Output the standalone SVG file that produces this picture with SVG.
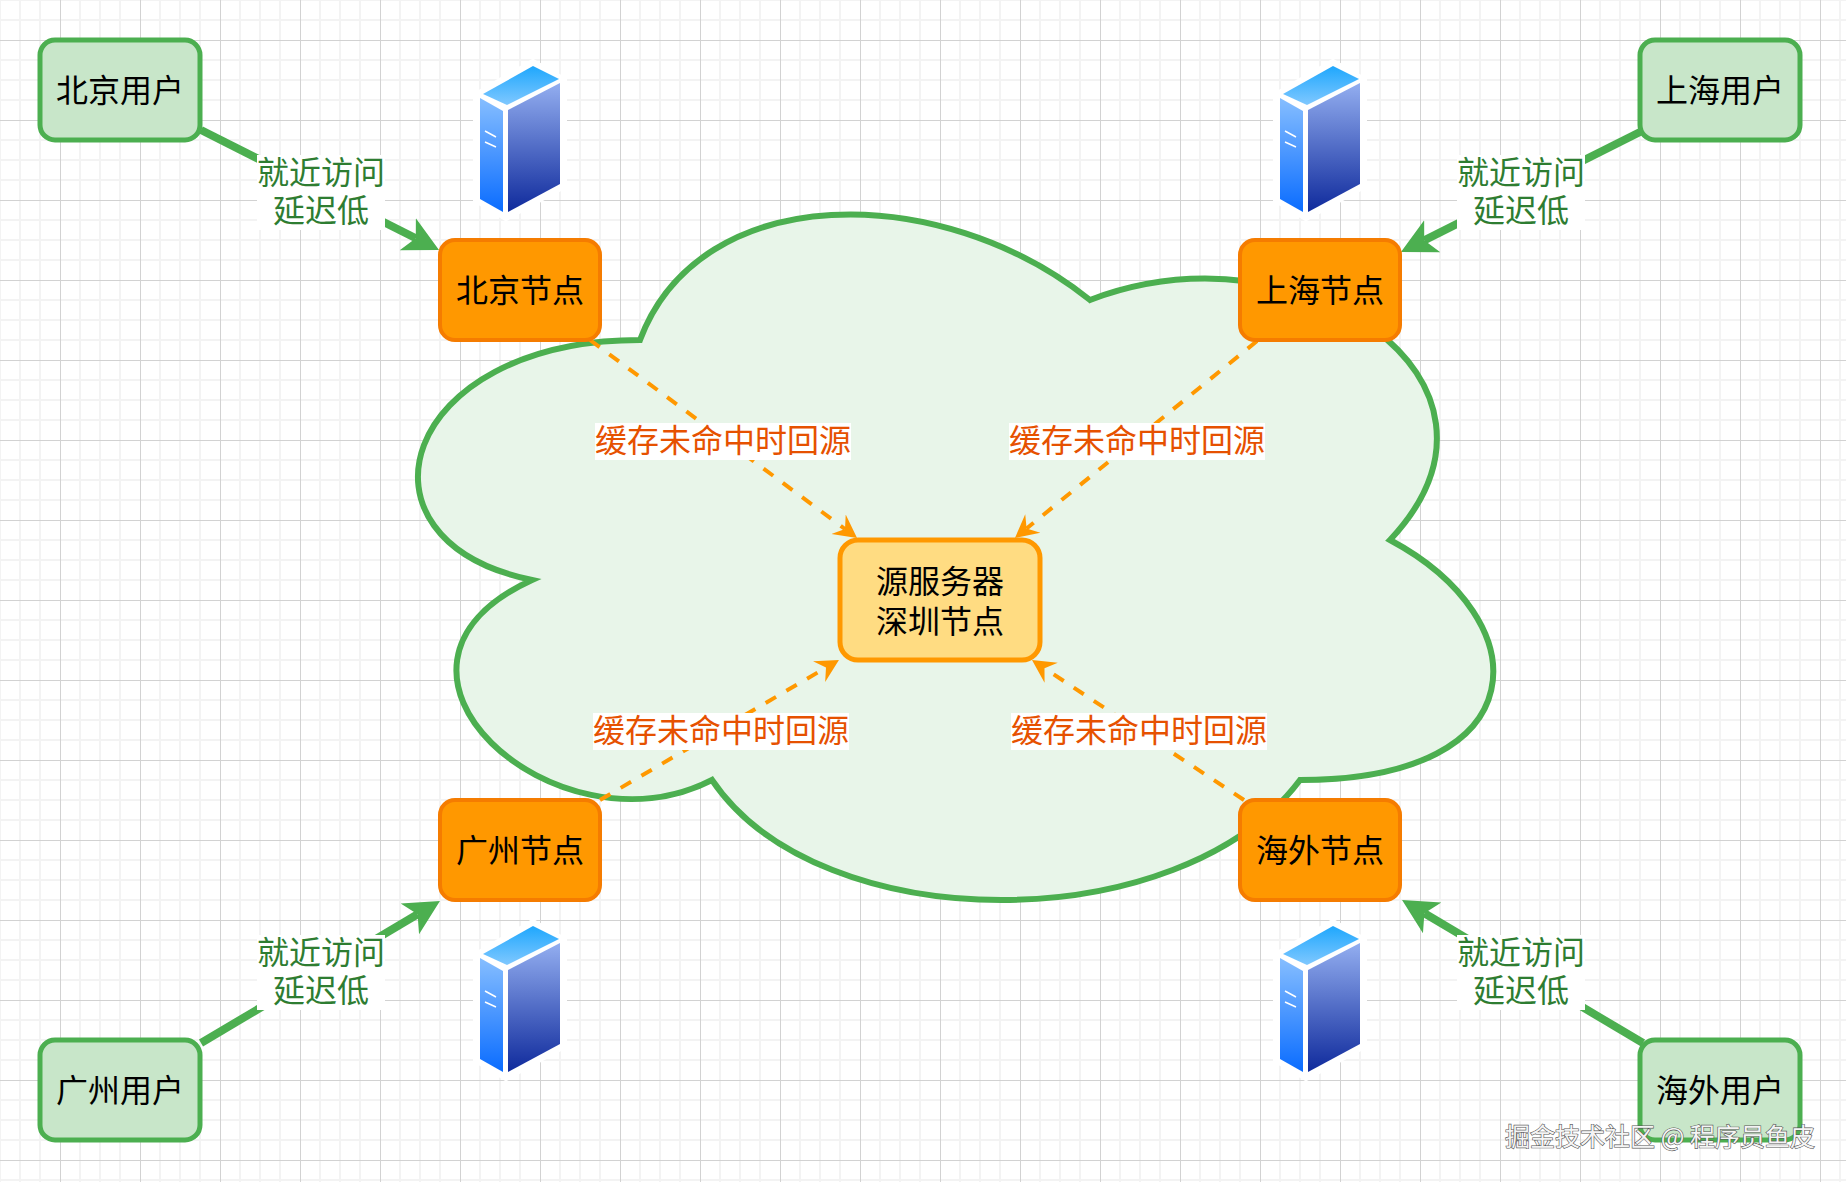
<svg xmlns="http://www.w3.org/2000/svg" xmlns:xlink="http://www.w3.org/1999/xlink" width="1846" height="1182" viewBox="0 0 1846 1182">
<style>
text{font-family:"Noto Sans CJK SC","Noto Sans",sans-serif;font-size:32px;text-anchor:middle}
.user{fill:#c8e6c9;stroke:#4caf50;stroke-width:5}
.edge{fill:#ff9800;stroke:#f57c00;stroke-width:4}
.origin{fill:#ffdc82;stroke:#ff9800;stroke-width:5}
.n{fill:#000}
.g{fill:#2e7d32}
.o{fill:#e65100}
.bg{fill:#fff}
.near{stroke:#4caf50;stroke-width:8;fill:none;marker-end:url(#ga)}
.miss{stroke:#ff9800;stroke-width:4;stroke-dasharray:12 12;fill:none;marker-end:url(#oa)}
</style>
<defs>
<pattern id="grid" patternUnits="userSpaceOnUse" x="60" y="40" width="80" height="80">
<rect width="80" height="80" fill="#fff"/>
<path d="M20 0V80M40 0V80M60 0V80M0 20H80M0 40H80M0 60H80" stroke="#f3f3f3" stroke-width="2" fill="none"/>
<path d="M0 0V80M0 0H80" stroke="#d2d2d2" stroke-width="2" fill="none"/>
</pattern>
<marker id="ga" markerUnits="userSpaceOnUse" markerWidth="36" markerHeight="38" refX="9" refY="19" orient="auto"><path d="M35 19L0 1L9 19L0 37Z" fill="#4caf50"/></marker>
<marker id="oa" markerUnits="userSpaceOnUse" markerWidth="24" markerHeight="26" refX="8" refY="13" orient="auto"><path d="M23 13L0 1L8 13L0 25Z" fill="#ff9800"/></marker>
<linearGradient id="st" x1="0" y1="0" x2="0" y2="1"><stop offset="0" stop-color="#1ea7fd"/><stop offset="1" stop-color="#80c8ff"/></linearGradient>
<linearGradient id="sr" x1="0" y1="0" x2="0" y2="1"><stop offset="0" stop-color="#93aef0"/><stop offset="1" stop-color="#0f2a9c"/></linearGradient>
<linearGradient id="sl" x1="0" y1="0" x2="0" y2="1"><stop offset="0" stop-color="#86beff"/><stop offset="1" stop-color="#0a6cff"/></linearGradient>
<g id="server">
<path d="M533 62L564 80V186L506 218L476 200V95Z" fill="#fff" stroke="#fff" stroke-width="6"/>
<path d="M533 66L559 79L507 105L483 94Z" fill="url(#st)"/>
<path d="M560 83V184L508 212V110Z" fill="url(#sr)"/>
<path d="M480 98L503 111V212L480 199Z" fill="url(#sl)"/>
<path d="M485 131L496 137M485 142L496 147" stroke="#fff" stroke-width="1.5" fill="none"/>
</g>
</defs>
<rect id="background" width="1846" height="1182" fill="url(#grid)"/>
<g id="cloud"><path d="M640 340C400 340 340 540 532 580C340 668 556 860 712 780C820 940 1180 940 1300 780C1540 780 1540 620 1390 540C1540 380 1300 220 1090 300C940 180 700 180 640 340Z" fill="#e8f5e9" stroke="#4caf50" stroke-width="6"/></g>
<g id="connectors">
<path class="near" d="M201 130L415.800 238.300"/>
<path class="near" d="M1640 132L1424.200 240.300"/>
<path class="near" d="M201 1043L417.600 914.300"/>
<path class="near" d="M1643 1043L1424.400 913.300"/>
<path class="miss" d="M590 340L845 529"/>
<path class="miss" d="M1257 341L1026.600 528.500"/>
<path class="miss" d="M600 800L826 667.600"/>
<path class="miss" d="M1244 800L1044.500 668.300"/>
</g>
<g id="server-beijing"><use href="#server"/></g>
<g id="server-shanghai"><use href="#server" x="800"/></g>
<g id="server-guangzhou"><use href="#server" y="860"/></g>
<g id="server-overseas"><use href="#server" x="800" y="860"/></g>
<g id="user-beijing"><rect class="user" x="40" y="40" width="160" height="100" rx="15"/><text class="n" x="120" y="102">北京用户</text></g>
<g id="user-shanghai"><rect class="user" x="1640" y="40" width="160" height="100" rx="15"/><text class="n" x="1720" y="102">上海用户</text></g>
<g id="user-guangzhou"><rect class="user" x="40" y="1040" width="160" height="100" rx="15"/><text class="n" x="120" y="1102">广州用户</text></g>
<g id="user-overseas"><rect class="user" x="1640" y="1040" width="160" height="100" rx="15"/><text class="n" x="1720" y="1102">海外用户</text></g>
<g id="node-beijing"><rect class="edge" x="440" y="240" width="160" height="100" rx="15"/><text class="n" x="520" y="302">北京节点</text></g>
<g id="node-shanghai"><rect class="edge" x="1240" y="240" width="160" height="100" rx="15"/><text class="n" x="1320" y="302">上海节点</text></g>
<g id="node-guangzhou"><rect class="edge" x="440" y="800" width="160" height="100" rx="15"/><text class="n" x="520" y="862">广州节点</text></g>
<g id="node-overseas"><rect class="edge" x="1240" y="800" width="160" height="100" rx="15"/><text class="n" x="1320" y="862">海外节点</text></g>
<g id="origin"><rect class="origin" x="840" y="540" width="200" height="120" rx="18"/><text class="n" x="940" y="593">源服务器</text><text class="n" x="940" y="633">深圳节点</text></g>
<g id="labels">
<rect class="bg" x="257" y="155" width="128" height="75"/><text class="g" x="321" y="183.500">就近访问</text><text class="g" x="321" y="221.500">延迟低</text>
<rect class="bg" x="1457" y="155" width="128" height="75"/><text class="g" x="1521" y="183.500">就近访问</text><text class="g" x="1521" y="221.500">延迟低</text>
<rect class="bg" x="257" y="935" width="128" height="75"/><text class="g" x="321" y="963.500">就近访问</text><text class="g" x="321" y="1001.500">延迟低</text>
<rect class="bg" x="1457" y="935" width="128" height="75"/><text class="g" x="1521" y="963.500">就近访问</text><text class="g" x="1521" y="1001.500">延迟低</text>
<rect class="bg" x="595" y="423" width="256" height="37"/><text class="o" x="723" y="452">缓存未命中时回源</text>
<rect class="bg" x="1009" y="423" width="256" height="37"/><text class="o" x="1137" y="452">缓存未命中时回源</text>
<rect class="bg" x="593" y="713" width="256" height="37"/><text class="o" x="721" y="742">缓存未命中时回源</text>
<rect class="bg" x="1011" y="713" width="256" height="37"/><text class="o" x="1139" y="742">缓存未命中时回源</text>
</g>
<text id="watermark" x="1660" y="1146" style="font-size:25px;fill:#f4f4f4;stroke:#555;stroke-width:1.200px;paint-order:stroke">掘金技术社区 @ 程序员鱼皮</text>
</svg>
